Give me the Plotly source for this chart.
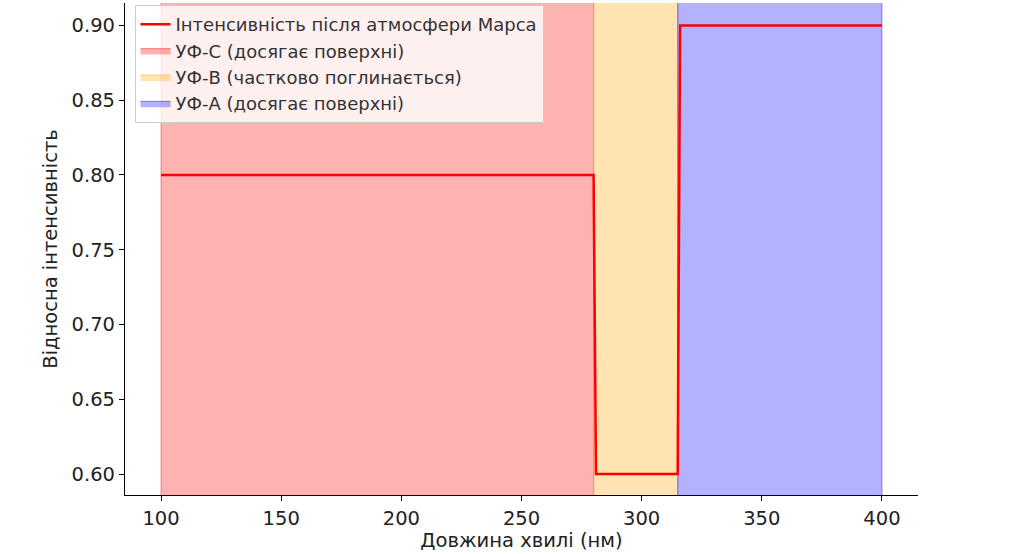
import plotly.graph_objects as go

# wavelength (nm) and relative intensity after the Martian atmosphere
wavelength = [100, 280, 281, 315, 316, 400]
intensity = [0.80, 0.80, 0.60, 0.60, 0.90, 0.90]

# UV bands: name, start, end, colour
band_names = ["УФ-C (досягає поверхні)", "УФ-B (частково поглинається)", "УФ-A (досягає поверхні)"]
band_start = [100, 280, 315]
band_end = [280, 315, 400]
band_colors = ["255,0,0", "255,165,0", "0,0,255"]

line_name = "Інтенсивність після атмосфери Марса"

fig = go.Figure()

# shaded bands, extended vertically beyond the visible range
for name, x0, x1, c in zip(band_names, band_start, band_end, band_colors):
    fig.add_trace(go.Scatter(
        x=[x0, x1, x1, x0, x0], y=[0.5, 0.5, 1.0, 1.0, 0.5],
        mode="lines", fill="toself", name=name,
        fillcolor=f"rgba({c},0.3)", line=dict(color=f"rgba({c},0.35)", width=1.2),
        hoverinfo="skip"))

fig.add_trace(go.Scatter(
    x=wavelength, y=intensity, mode="lines", name=line_name,
    line=dict(color="#ff0000", width=2.5)))

axis_common = dict(
    showgrid=False, zeroline=False, showline=True, linecolor="black", linewidth=1.2,
    ticks="outside", ticklen=5, tickcolor="black", mirror=False, automargin=False,
    tickfont=dict(size=19.5, color="#222"),
)

fig.update_layout(
    width=1024, height=554,
    margin=dict(l=125, r=106, t=3, b=59),
    plot_bgcolor="white", paper_bgcolor="white",
    font=dict(family="DejaVu Sans", color="#222"),
    showlegend=True,
    legend=dict(
        x=0.012, y=0.996, xanchor="left", yanchor="top",
        bgcolor="rgba(255,255,255,0.8)", bordercolor="#cccccc", borderwidth=1,
        font=dict(size=18, color="#333"), traceorder="normal",
    ),
    xaxis=dict(axis_common, range=[85, 415], tickvals=[100, 150, 200, 250, 300, 350, 400],
               title=dict(text="Довжина хвилі (нм)", font=dict(size=19.5), standoff=4)),
    yaxis=dict(axis_common, range=[0.586, 0.915], tickvals=[0.60, 0.65, 0.70, 0.75, 0.80, 0.85, 0.90],
               tickformat=".2f",
               title=dict(text="Відносна інтенсивність", font=dict(size=19.5), standoff=8)),
)

# legend order: line first, then bands
fig.update_traces(legendrank=1, selector=dict(name=line_name))
for i, name in enumerate(band_names):
    fig.update_traces(legendrank=2 + i, selector=dict(name=name))

# drop the default page margin so the figure sits at the window's corner
fig.write_html("out.html", config={"displayModeBar": False},
               post_script="document.body.style.margin='0';")
